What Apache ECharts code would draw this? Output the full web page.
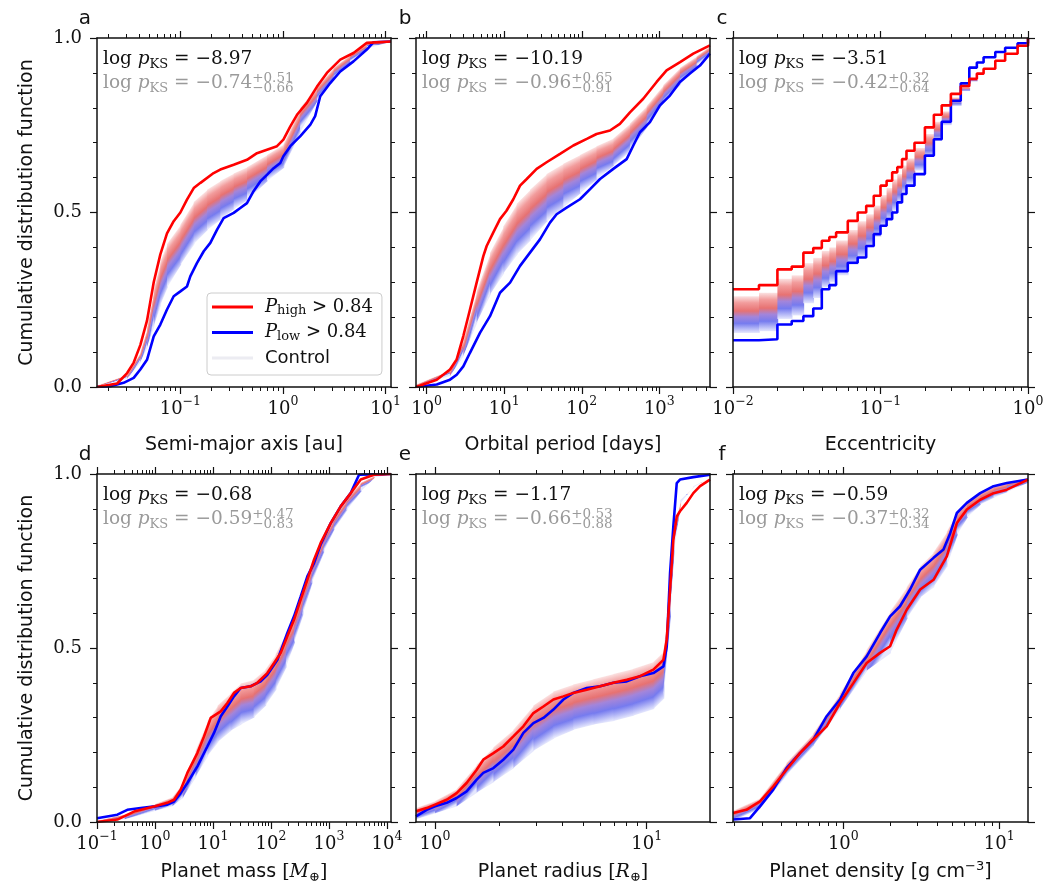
<!DOCTYPE html>
<html>
<head>
<meta charset="utf-8">
<script src="https://cdn.jsdelivr.net/npm/echarts@6/dist/echarts.min.js"></script>
<style>
html, body { margin: 0; padding: 0; background: #ffffff; }
#chart { width: 1058px; height: 896px; }
</style>
</head>
<body>
<div id="chart"></div>
<script>
// ---------------- data: cumulative distributions per planet property ----------------
// each "High"/"Low" array holds [value, CDF] pairs; control bands share one x grid

// a: semi-major axis [au]
const semiMajorRange = [0.0154, 11.3];
const semiMajorTicks = [0.1, 1, 10];
const semiMajorHigh = [[0.0154,0.0],[0.0242,0.01],[0.0303,0.04],[0.0351,0.07],[0.0407,0.12],[0.0473,0.19],[0.055,0.30],[0.0638,0.38],[0.0741,0.44],[0.0861,0.475],[0.1,0.50],[0.116,0.537],[0.135,0.57],[0.157,0.585],[0.211,0.613],[0.245,0.623],[0.331,0.637],[0.446,0.651],[0.558,0.67],[0.698,0.68],[0.875,0.69],[1.01,0.709],[1.18,0.747],[1.37,0.78],[1.71,0.814],[2.14,0.86],[2.68,0.90],[3.62,0.938],[4.87,0.957],[6.57,0.986],[11.3,0.99]];
const semiMajorLow = [[0.0154,0.0],[0.0208,0.002],[0.028,0.012],[0.0351,0.026],[0.0407,0.05],[0.0473,0.078],[0.055,0.145],[0.0638,0.179],[0.0741,0.222],[0.0861,0.26],[0.1,0.274],[0.116,0.288],[0.125,0.317],[0.145,0.355],[0.169,0.389],[0.196,0.413],[0.228,0.451],[0.264,0.484],[0.331,0.499],[0.384,0.513],[0.446,0.527],[0.517,0.561],[0.601,0.589],[0.698,0.608],[0.811,0.627],[0.942,0.642],[1.01,0.661],[1.18,0.69],[1.47,0.718],[1.85,0.752],[2.06,0.776],[2.31,0.833],[2.89,0.871],[3.62,0.904],[4.87,0.933],[6.57,0.967],[7.64,0.988],[11.3,0.99]];
const semiMajorCtrlX = [0.0154,0.0303,0.0407,0.0473,0.055,0.0638,0.0741,0.1,0.135,0.182,0.245,0.331,0.446,0.698,1.01,1.47,2.14,3.12,4.51,6.57,11.3];
const semiMajorCtrlHi = [0.004,0.035,0.10,0.17,0.28,0.36,0.41,0.465,0.53,0.565,0.59,0.612,0.63,0.665,0.695,0.80,0.86,0.915,0.952,0.983,0.99];
const semiMajorCtrlLo = [0.002,0.024,0.072,0.115,0.175,0.235,0.285,0.35,0.41,0.45,0.48,0.51,0.535,0.59,0.628,0.73,0.82,0.882,0.93,0.97,0.99];

// b: orbital period [days]
const periodRange = [0.729, 4500];
const periodTicks = [1, 10, 100, 1000];
const periodHigh = [[0.729,0.0],[1.0,0.011],[1.35,0.021],[2.0,0.05],[2.44,0.079],[2.97,0.146],[3.62,0.222],[4.41,0.299],[5.38,0.375],[5.94,0.404],[7.24,0.443],[8.82,0.481],[10.7,0.505],[13.1,0.538],[16,0.577],[19.5,0.596],[26.2,0.625],[35.2,0.644],[52.4,0.668],[77.8,0.692],[116,0.711],[155,0.725],[231,0.735],[310,0.754],[418,0.787],[620,0.826],[923,0.874],[1240,0.907],[1850,0.931],[2740,0.955],[4495,0.979]];
const periodLow = [[0.729,0.0],[1.35,0.007],[2.0,0.021],[2.44,0.035],[2.97,0.059],[3.62,0.098],[4.87,0.155],[6.56,0.203],[8.82,0.27],[11.9,0.299],[16,0.347],[21.5,0.385],[28.9,0.423],[38.9,0.471],[47.4,0.495],[63.8,0.514],[94.8,0.538],[128,0.567],[172,0.596],[255,0.625],[379,0.653],[462,0.692],[563,0.73],[757,0.759],[1018,0.807],[1370,0.835],[1845,0.874],[2480,0.898],[3340,0.921],[4495,0.955]];
const periodCtrlX = [0.729,2.0,2.97,4.41,6.56,9.73,14.5,21.5,35.2,57.8,94.8,155,255,418,686,1125,1845,3027,4495];
const periodCtrlHi = [0.007,0.048,0.135,0.275,0.385,0.46,0.525,0.565,0.61,0.64,0.665,0.69,0.712,0.755,0.805,0.865,0.915,0.948,0.977];
const periodCtrlLo = [0.004,0.032,0.09,0.185,0.265,0.325,0.38,0.42,0.475,0.515,0.555,0.595,0.635,0.675,0.745,0.815,0.865,0.92,0.958];

// c: eccentricity (step distribution)
const eccRange = [0.01, 1];
const eccTicks = [0.01, 0.1, 1];
const eccX = [0.01,0.015,0.02,0.025,0.03,0.035,0.04,0.045,0.05,0.06,0.07,0.08,0.09,0.1,0.11,0.12,0.13,0.14,0.15,0.17,0.2,0.23,0.26,0.3,0.35,0.4,0.45,0.5,0.6,0.7,0.85,1.0];
const eccHigh = [0.28,0.292,0.337,0.345,0.385,0.398,0.419,0.43,0.443,0.476,0.5,0.519,0.548,0.577,0.591,0.615,0.63,0.653,0.677,0.70,0.744,0.78,0.807,0.84,0.862,0.883,0.898,0.912,0.935,0.955,0.978,1.0];
const eccLow = [0.134,0.137,0.179,0.189,0.203,0.225,0.28,0.292,0.332,0.356,0.371,0.404,0.438,0.462,0.481,0.5,0.529,0.553,0.577,0.61,0.663,0.71,0.76,0.82,0.87,0.915,0.93,0.945,0.96,0.972,0.985,1.0];
const eccCtrlHi = [0.26,0.27,0.31,0.32,0.355,0.37,0.39,0.40,0.42,0.45,0.475,0.495,0.52,0.55,0.57,0.595,0.61,0.635,0.655,0.685,0.725,0.76,0.79,0.83,0.858,0.882,0.898,0.912,0.935,0.955,0.978,1.0];
const eccCtrlLo = [0.155,0.16,0.195,0.205,0.24,0.255,0.285,0.30,0.32,0.35,0.37,0.40,0.43,0.46,0.48,0.505,0.53,0.555,0.58,0.62,0.66,0.705,0.75,0.805,0.848,0.875,0.895,0.91,0.935,0.955,0.978,1.0];

// d: planet mass [Earth masses]
const massRange = [0.1, 11700];
const massTicks = [0.1, 1, 10, 100, 1000, 10000];
const massHigh = [[0.1,0.0],[0.224,0.007],[0.434,0.03],[1.0,0.045],[1.63,0.055],[2.13,0.064],[2.77,0.093],[3.61,0.141],[5.37,0.198],[7.0,0.246],[9.12,0.299],[13.6,0.318],[17.7,0.342],[23,0.371],[30,0.385],[44.6,0.39],[58.1,0.40],[86.4,0.428],[113,0.457],[147,0.486],[191,0.534],[249,0.581],[325,0.639],[423,0.696],[551,0.754],[718,0.802],[1069,0.859],[1589,0.907],[2365,0.945],[3519,0.984],[5971,0.998],[11700,1.0]];
const massLow = [[0.1,0.011],[0.224,0.021],[0.333,0.035],[0.566,0.04],[1.0,0.045],[1.63,0.05],[2.13,0.059],[2.77,0.083],[3.61,0.112],[5.37,0.16],[7.98,0.217],[10.4,0.256],[13.6,0.304],[17.7,0.332],[23,0.361],[30,0.385],[44.6,0.39],[66.3,0.404],[86.4,0.423],[129,0.466],[191,0.543],[249,0.591],[325,0.648],[423,0.706],[551,0.744],[718,0.797],[1069,0.859],[1589,0.907],[2365,0.945],[3290,0.998],[11700,1.0]];
const massCtrlX = [0.1,0.3,1,2,3,5,8,12,20,30,50,80,120,180,250,350,500,800,1200,2000,3500,6000,11700];
const massCtrlHi = [0.004,0.022,0.052,0.072,0.112,0.205,0.29,0.335,0.37,0.398,0.408,0.438,0.482,0.542,0.592,0.665,0.74,0.82,0.875,0.93,0.975,0.995,1.0];
const massCtrlLo = [0.0,0.008,0.032,0.046,0.07,0.13,0.19,0.23,0.262,0.28,0.3,0.335,0.38,0.445,0.515,0.595,0.685,0.775,0.84,0.895,0.95,0.99,1.0];

// e: planet radius [Earth radii]
const radiusRange = [0.813, 19.9];
const radiusTicks = [1, 10];
const radiusHigh = [[0.813,0.031],[0.913,0.04],[1.0,0.05],[1.135,0.064],[1.265,0.083],[1.41,0.112],[1.573,0.15],[1.69,0.179],[1.887,0.198],[2.1,0.217],[2.344,0.246],[2.614,0.275],[2.915,0.313],[3.25,0.332],[3.624,0.352],[4.04,0.361],[4.5,0.371],[5.21,0.38],[6.02,0.39],[6.96,0.40],[8.05,0.409],[9.3,0.419],[10.75,0.438],[11.99,0.466],[12.43,0.524],[12.89,0.668],[13.36,0.811],[13.86,0.878],[14.36,0.893],[15.45,0.917],[16.6,0.945],[17.86,0.965],[19.9,0.984]];
const radiusLow = [[0.813,0.016],[0.913,0.035],[1.0,0.045],[1.135,0.055],[1.265,0.069],[1.41,0.088],[1.573,0.122],[1.69,0.141],[1.887,0.155],[2.1,0.179],[2.344,0.208],[2.614,0.256],[2.915,0.284],[3.25,0.299],[3.624,0.323],[4.04,0.352],[4.5,0.371],[5.21,0.385],[6.02,0.39],[6.96,0.40],[8.05,0.404],[9.3,0.419],[10.75,0.428],[11.99,0.447],[12.43,0.505],[12.89,0.716],[13.36,0.85],[13.86,0.974],[14.36,0.984],[16.6,0.991],[19.9,0.998]];
const radiusCtrlX = [0.813,1.0,1.265,1.573,1.887,2.344,2.915,3.624,4.5,5.6,6.96,8.6,10.75,12.0,12.9,13.4,14.4,16.6,19.9];
const radiusCtrlHi = [0.04,0.06,0.095,0.165,0.215,0.265,0.335,0.375,0.395,0.41,0.425,0.44,0.46,0.49,0.69,0.84,0.925,0.962,0.99];
const radiusCtrlLo = [0.008,0.025,0.045,0.085,0.115,0.155,0.205,0.24,0.265,0.28,0.29,0.305,0.325,0.355,0.59,0.77,0.915,0.965,0.99];

// f: planet density [g cm^-3]
const densityRange = [0.196, 15.3];
const densityTicks = [1, 10];
const densityHigh = [[0.196,0.026],[0.239,0.035],[0.292,0.059],[0.355,0.102],[0.432,0.15],[0.527,0.198],[0.642,0.237],[0.782,0.275],[0.952,0.342],[1.159,0.399],[1.412,0.457],[1.72,0.486],[1.995,0.505],[2.2,0.553],[2.55,0.61],[3.11,0.668],[3.79,0.696],[4.61,0.763],[5.35,0.859],[6.2,0.898],[7.55,0.926],[9.2,0.945],[11.2,0.955],[15.3,0.984]];
const densityLow = [[0.196,0.007],[0.252,0.011],[0.292,0.045],[0.355,0.093],[0.432,0.155],[0.527,0.198],[0.642,0.237],[0.782,0.304],[0.952,0.352],[1.159,0.428],[1.412,0.476],[1.72,0.543],[1.995,0.591],[2.31,0.62],[2.68,0.668],[3.11,0.725],[3.79,0.759],[4.39,0.783],[4.85,0.83],[5.35,0.888],[6.2,0.917],[7.55,0.945],[9.2,0.965],[11.2,0.974],[15.3,0.984]];
const densityCtrlX = [0.196,0.292,0.432,0.642,0.952,1.412,1.995,2.55,3.11,3.79,4.61,5.35,6.2,7.55,9.2,11.2,15.3];
const densityCtrlHi = [0.032,0.068,0.17,0.255,0.37,0.495,0.605,0.675,0.735,0.775,0.835,0.89,0.922,0.947,0.966,0.976,0.99];
const densityCtrlLo = [0.004,0.038,0.135,0.22,0.325,0.435,0.485,0.585,0.645,0.675,0.735,0.825,0.875,0.912,0.932,0.948,0.976];

// KS statistics: [sample log p, control median, +err, -err]
const ksValues = [
  ['−8.97', '−0.74', '+0.51', '−0.66'],
  ['−10.19', '−0.96', '+0.65', '−0.91'],
  ['−3.51', '−0.42', '+0.32', '−0.64'],
  ['−0.68', '−0.59', '+0.47', '−0.83'],
  ['−1.17', '−0.66', '+0.53', '−0.88'],
  ['−0.59', '−0.37', '+0.32', '−0.34']
];
const panelLetters = ['a', 'b', 'c', 'd', 'e', 'f'];
const xTitles = [
  '{s|Semi-major axis [au]}',
  '{s|Orbital period [days]}',
  '{s|Eccentricity}',
  '{s|Planet mass }{m|[}{i|M}{sub|⊕}{m|]}',
  '{s|Planet radius }{m|[}{i|R}{sub|⊕}{m|]}',
  '{s|Planet density [g cm}{sup|−3}{s|]}'
];
const yTitle = 'Cumulative distribution function';
const cdfRange = [0, 1];
const legendLabels = {
  high: '{i|P}{s|high}{r| > 0.84}',
  low: '{i|P}{s|low}{r| > 0.84}',
  Control: '{c|Control}'
};

// ---------------- layout & styling ----------------
const SERIF = 'DejaVu Serif';
const SANS = 'DejaVu Sans';
const INK = '#111111';
const RED = '#ff0000';
const BLUE = '#0000ff';

// colour profile across the control band, from its upper (red) edge to its lower (blue) edge
const bandStops = [
  { offset: 0.0, color: '#fbe2e2' },
  { offset: 0.18, color: '#f29c9c' },
  { offset: 0.4, color: '#e77272' },
  { offset: 0.56, color: '#a385da' },
  { offset: 0.74, color: '#767bef' },
  { offset: 1.0, color: '#e5e7fd' }
];

const colLeft = [97, 416, 733];
const colWidth = [294, 294, 295];
const rowTop = [38, 474];
const rowHeight = [349, 348];

const panels = [
  { range: semiMajorRange, ticks: semiMajorTicks, high: semiMajorHigh, low: semiMajorLow, cx: semiMajorCtrlX, chi: semiMajorCtrlHi, clo: semiMajorCtrlLo },
  { range: periodRange, ticks: periodTicks, high: periodHigh, low: periodLow, cx: periodCtrlX, chi: periodCtrlHi, clo: periodCtrlLo },
  { range: eccRange, ticks: eccTicks, high: eccX.map((x, i) => [x, eccHigh[i]]), low: eccX.map((x, i) => [x, eccLow[i]]), cx: eccX, chi: eccCtrlHi, clo: eccCtrlLo, step: 'end' },
  { range: massRange, ticks: massTicks, high: massHigh, low: massLow, cx: massCtrlX, chi: massCtrlHi, clo: massCtrlLo },
  { range: radiusRange, ticks: radiusTicks, high: radiusHigh, low: radiusLow, cx: radiusCtrlX, chi: radiusCtrlHi, clo: radiusCtrlLo },
  { range: densityRange, ticks: densityTicks, high: densityHigh, low: densityLow, cx: densityCtrlX, chi: densityCtrlHi, clo: densityCtrlLo }
];

// minor log ticks (2..9 x 10^n) inside an axis range
function logMinorTicks(range) {
  const out = [];
  const e0 = Math.floor(Math.log10(range[0]));
  const e1 = Math.ceil(Math.log10(range[1]));
  for (let e = e0; e <= e1; e++) {
    for (let k = 2; k <= 9; k++) {
      const v = k * Math.pow(10, e);
      if (v >= range[0] && v <= range[1]) out.push(v);
    }
  }
  return out;
}

function powerLabel(v) {
  const e = Math.round(Math.log10(v));
  return '{b|10}{e|' + (e < 0 ? '−' + (-e) : String(e)) + '}';
}

// control band: one quadrilateral per grid step, shaded across the band's width
function bandRenderer(p) {
  return function (params, api) {
    const i = params.dataIndex;
    if (i >= p.cx.length - 1) return null;
    const x0 = p.cx[i], x1 = p.cx[i + 1];
    const hi1 = p.step ? p.chi[i] : p.chi[i + 1];
    const lo1 = p.step ? p.clo[i] : p.clo[i + 1];
    const A = api.coord([x0, p.chi[i]]);
    const B = api.coord([x1, hi1]);
    const C = api.coord([x1, lo1]);
    const D = api.coord([x0, p.clo[i]]);
    const over = 0.8;
    B[0] += over; C[0] += over;
    const T = [(A[0] + B[0]) / 2, (A[1] + B[1]) / 2];
    const M = [(D[0] + C[0]) / 2, (D[1] + C[1]) / 2];
    let dx = B[0] - A[0], dy = B[1] - A[1];
    const len = Math.hypot(dx, dy) || 1;
    dx /= len; dy /= len;
    const nx = -dy, ny = dx;
    const proj = (M[0] - T[0]) * nx + (M[1] - T[1]) * ny;
    const G = Math.abs(proj) < 1 ? [T[0], T[1] + 1] : [T[0] + nx * proj, T[1] + ny * proj];
    return {
      type: 'polygon',
      shape: { points: [A, B, C, D] },
      style: { fill: new echarts.graphic.LinearGradient(T[0], T[1], G[0], G[1], bandStops, true) }
    };
  };
}

const tickLabelRich = {
  b: { fontFamily: SERIF, fontSize: 18, color: INK, padding: [7, 0, 0, 0], lineHeight: 21 },
  e: { fontFamily: SERIF, fontSize: 12.5, color: INK, verticalAlign: 'top', lineHeight: 12 }
};

const titleRich = {
  s: { fontFamily: SANS, fontSize: 19, color: INK, lineHeight: 24 },
  m: { fontFamily: SERIF, fontSize: 19, color: INK, lineHeight: 24 },
  i: { fontFamily: SERIF, fontStyle: 'italic', fontSize: 19, color: INK, lineHeight: 24 },
  sub: { fontFamily: SERIF, fontSize: 13, color: INK, verticalAlign: 'bottom', lineHeight: 16 },
  sup: { fontFamily: SANS, fontSize: 13, color: INK, verticalAlign: 'top', lineHeight: 14 }
};

function ksRich(mainColor, scriptColor) {
  return {
    r: { fontFamily: SERIF, fontSize: 18.5, fill: mainColor, color: mainColor, lineHeight: 24 },
    i: { fontFamily: SERIF, fontStyle: 'italic', fontSize: 18.5, fill: mainColor, color: mainColor, lineHeight: 24 },
    s: { fontFamily: SERIF, fontSize: 13, fill: mainColor, color: mainColor, verticalAlign: 'bottom', lineHeight: 16 },
    sup: { fontFamily: SERIF, fontSize: 13.5, fill: scriptColor, color: scriptColor, verticalAlign: 'top', lineHeight: 12 },
    sub: { fontFamily: SERIF, fontSize: 13.5, fill: scriptColor, color: scriptColor, verticalAlign: 'bottom', lineHeight: 12 }
  };
}

const grids = [], xAxes = [], yAxes = [], series = [], graphics = [];

panels.forEach((p, idx) => {
  const row = Math.floor(idx / 3), col = idx % 3;
  const left = colLeft[col], top = rowTop[row], width = colWidth[col], height = rowHeight[row];
  grids.push({ left, top, width, height, containLabel: false });

  const minors = logMinorTicks(p.range);
  const baseX = {
    type: 'log', gridIndex: idx, min: p.range[0], max: p.range[1], z: 5,
    splitLine: { show: false }, minorSplitLine: { show: false }
  };
  // bottom axis: frame, decade ticks and labels, title
  xAxes.push(Object.assign({}, baseX, {
    position: 'bottom',
    axisLine: { show: true, onZero: false, lineStyle: { color: INK, width: 1.5 } },
    axisTick: { show: true, inside: false, length: 7, customValues: p.ticks, lineStyle: { color: INK, width: 1.2 } },
    axisLabel: { show: true, margin: 8, customValues: p.ticks, formatter: powerLabel, rich: tickLabelRich },
    name: xTitles[idx], nameLocation: 'middle', nameGap: row === 0 ? 46 : 38,
    nameTextStyle: { rich: titleRich }
  }));
  // bottom axis: minor ticks
  xAxes.push(Object.assign({}, baseX, {
    position: 'bottom',
    axisLine: { show: false, onZero: false },
    axisTick: { show: true, inside: false, length: 4, customValues: minors, lineStyle: { color: INK, width: 1 } },
    axisLabel: { show: false, customValues: minors }
  }));
  // top axis mirrors
  xAxes.push(Object.assign({}, baseX, {
    position: 'top',
    axisLine: { show: true, onZero: false, lineStyle: { color: INK, width: 1.5 } },
    axisTick: { show: true, inside: false, length: 7, customValues: p.ticks, lineStyle: { color: INK, width: 1.2 } },
    axisLabel: { show: false, customValues: p.ticks }
  }));
  xAxes.push(Object.assign({}, baseX, {
    position: 'top',
    axisLine: { show: false, onZero: false },
    axisTick: { show: true, inside: false, length: 4, customValues: minors, lineStyle: { color: INK, width: 1 } },
    axisLabel: { show: false, customValues: minors }
  }));

  const baseY = {
    type: 'value', gridIndex: idx, min: cdfRange[0], max: cdfRange[1], interval: 0.5, z: 5,
    axisLine: { show: true, onZero: false, lineStyle: { color: INK, width: 1.5 } },
    axisTick: { show: true, inside: false, length: 7, lineStyle: { color: INK, width: 1.2 } },
    minorTick: { show: true, splitNumber: 5, length: 4, lineStyle: { color: INK, width: 1 } },
    splitLine: { show: false }, minorSplitLine: { show: false }
  };
  yAxes.push(Object.assign({}, baseY, {
    position: 'left',
    axisLabel: {
      show: col === 0, margin: 15, formatter: v => v.toFixed(1),
      fontFamily: SERIF, fontSize: 18, color: INK
    },
    name: col === 0 ? yTitle : '', nameLocation: 'middle', nameGap: 60, nameRotate: 90,
    nameTextStyle: { fontFamily: SANS, fontSize: 19, color: INK }
  }));
  yAxes.push(Object.assign({}, baseY, { position: 'right', axisLabel: { show: false } }));

  const xi = idx * 4, yi = idx * 2;
  const common = { type: 'line', xAxisIndex: xi, yAxisIndex: yi, symbol: 'none', silent: true, step: p.step || false, animation: false };

  // control band
  series.push({
    type: 'custom', name: 'Control', xAxisIndex: xi, yAxisIndex: yi, silent: true, clip: true, z: 1,
    animation: false,
    data: p.cx.map((x, i) => [x, p.clo[i], p.chi[i]]),
    encode: { x: 0, y: [1, 2] },
    itemStyle: { color: '#ececf2' },
    renderItem: bandRenderer(p)
  });
  // the two selected samples
  series.push(Object.assign({}, common, {
    name: 'low', data: p.low, lineStyle: { color: BLUE, width: 2.6 }, itemStyle: { color: BLUE }, z: 3
  }));
  series.push(Object.assign({}, common, {
    name: 'high', data: p.high, lineStyle: { color: RED, width: 2.6 }, itemStyle: { color: RED }, z: 3
  }));

  // panel letter
  graphics.push({
    type: 'text', x: left - (col === 0 ? 12 : 11), y: top - 19, z: 10,
    style: { text: panelLetters[idx], fontFamily: SANS, fontSize: 20, fill: INK, align: 'center', verticalAlign: 'middle' }
  });

  // KS statistics text
  const ks = ksValues[idx];
  graphics.push({
    type: 'text', x: left + 6, y: top + 9, z: 10,
    style: { text: '{r|log }{i|p}{s|KS}{r| = ' + ks[0] + '}', rich: ksRich(INK, INK), align: 'left', verticalAlign: 'top' }
  });
  graphics.push({
    type: 'text', x: left + 6, y: top + 33, z: 10,
    style: { text: '{r|log }{i|p}{s|KS}{r| = ' + ks[1] + '}{sup|' + ks[2] + '}', rich: ksRich('#9a9a9a', '#9a9a9a'), align: 'left', verticalAlign: 'top' }
  });
  graphics.push({
    type: 'text', x: left + 6, y: top + 33, z: 10,
    style: { text: '{r|log }{i|p}{s|KS}{r| = ' + ks[1] + '}{sub|' + ks[3] + '}', rich: ksRich('rgba(0,0,0,0)', '#9a9a9a'), align: 'left', verticalAlign: 'top' }
  });
});

const chart = echarts.init(document.getElementById('chart'), null, { renderer: 'canvas' });
chart.setOption({
  backgroundColor: '#ffffff',
  animation: false,
  textStyle: { fontFamily: SANS },
  grid: grids,
  xAxis: xAxes,
  yAxis: yAxes,
  legend: {
    left: 207, top: 293, orient: 'vertical', selectedMode: false, z: 20,
    itemWidth: 41, itemHeight: 3, itemGap: 6,
    padding: [5, 9, 8, 5],
    borderColor: '#cccccc', borderWidth: 1, borderRadius: 4,
    backgroundColor: 'rgba(255,255,255,0.85)',
    data: [
      { name: 'high', icon: 'rect', itemStyle: { color: RED } },
      { name: 'low', icon: 'rect', itemStyle: { color: BLUE } },
      { name: 'Control', icon: 'rect', itemStyle: { color: '#ececf2' } }
    ],
    formatter: name => legendLabels[name],
    textStyle: {
      padding: [0, 0, 0, 7],
      rich: {
        i: { fontFamily: SERIF, fontStyle: 'italic', fontSize: 18, color: INK, lineHeight: 21 },
        s: { fontFamily: SERIF, fontSize: 13, color: INK, verticalAlign: 'bottom', lineHeight: 14 },
        r: { fontFamily: SERIF, fontSize: 18, color: INK, lineHeight: 21 },
        c: { fontFamily: SANS, fontSize: 18, color: INK, lineHeight: 21 }
      }
    }
  },
  graphic: graphics,
  series: series
});
</script>
</body>
</html>
